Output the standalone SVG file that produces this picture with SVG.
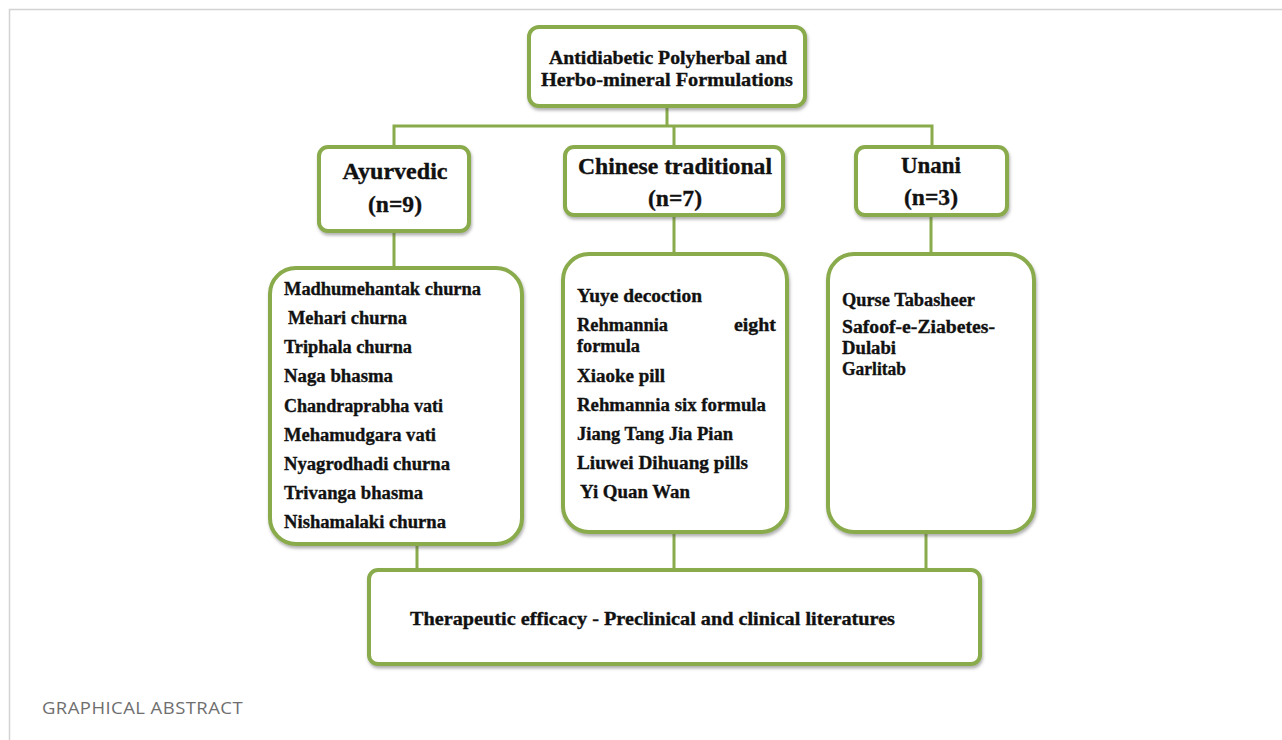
<svg xmlns="http://www.w3.org/2000/svg" width="1282" height="740" viewBox="0 0 1282 740">
<defs>
<filter id="sh" x="-10%" y="-10%" width="120%" height="125%">
<feDropShadow dx="1" dy="2.5" stdDeviation="1.5" flood-color="#555" flood-opacity="0.45"/>
</filter>
<style>
.box{fill:#fff;stroke:#8aab4c;stroke-width:4;filter:url(#sh)}
.con{fill:none;stroke:#8aab4c;stroke-width:3}
.t{font-family:"Liberation Serif","Times New Roman",serif;font-weight:bold;fill:#111;stroke:#111;stroke-width:0.35}
.h{font-size:23px;text-anchor:middle}
.l{font-size:18.5px}
</style>
</defs>
<rect x="0" y="0" width="1282" height="740" fill="#fff"/>
<path d="M9.5,740 V9.5 H1282" fill="none" stroke="#d2d2d2" stroke-width="1.5"/>

<g id="connectors">
<path class="con" d="M667,107 V126 M394,147 V126 H932 V146 M674,126 V146"/>
<path class="con" d="M394,232 V268 M674,216 V254 M931,216 V254"/>
<path class="con" d="M417,545 V570 M674,532 V570 M926,532 V570"/>
</g>

<g id="root">
<rect class="box" x="529" y="27" width="276" height="79" rx="10"/>
<text class="t" x="668" y="64" font-size="19" text-anchor="middle" textLength="238" lengthAdjust="spacingAndGlyphs">Antidiabetic Polyherbal and</text>
<text class="t" x="667" y="86" font-size="19" text-anchor="middle" textLength="252" lengthAdjust="spacingAndGlyphs">Herbo-mineral Formulations</text>
</g>

<g id="ayurvedic">
<rect class="box" x="319" y="147" width="150" height="84" rx="9"/>
<text class="t h" x="395" y="179" textLength="105" lengthAdjust="spacingAndGlyphs">Ayurvedic</text>
<text class="t h" x="395" y="212" textLength="54" lengthAdjust="spacingAndGlyphs">(n=9)</text>
</g>

<g id="chinese">
<rect class="box" x="565" y="147" width="218" height="68" rx="9"/>
<text class="t h" x="675" y="174" textLength="194" lengthAdjust="spacingAndGlyphs">Chinese traditional</text>
<text class="t h" x="675" y="206" textLength="54" lengthAdjust="spacingAndGlyphs">(n=7)</text>
</g>

<g id="unani">
<rect class="box" x="856" y="147" width="151" height="68" rx="9"/>
<text class="t h" x="931" y="173" textLength="60" lengthAdjust="spacingAndGlyphs">Unani</text>
<text class="t h" x="931" y="205" textLength="54" lengthAdjust="spacingAndGlyphs">(n=3)</text>
</g>

<g id="ayurvedic-list">
<rect class="box" x="270" y="268" width="252" height="276" rx="26"/>
<text class="t l" x="284" y="295" textLength="197" lengthAdjust="spacingAndGlyphs">Madhumehantak churna</text>
<text class="t l" x="288" y="324" textLength="119" lengthAdjust="spacingAndGlyphs">Mehari churna</text>
<text class="t l" x="284" y="353" textLength="128" lengthAdjust="spacingAndGlyphs">Triphala churna</text>
<text class="t l" x="284" y="382" textLength="109" lengthAdjust="spacingAndGlyphs">Naga bhasma</text>
<text class="t l" x="284" y="412" textLength="159" lengthAdjust="spacingAndGlyphs">Chandraprabha vati</text>
<text class="t l" x="284" y="441" textLength="152" lengthAdjust="spacingAndGlyphs">Mehamudgara vati</text>
<text class="t l" x="284" y="470" textLength="166" lengthAdjust="spacingAndGlyphs">Nyagrodhadi churna</text>
<text class="t l" x="284" y="499" textLength="139" lengthAdjust="spacingAndGlyphs">Trivanga bhasma</text>
<text class="t l" x="284" y="528" textLength="162" lengthAdjust="spacingAndGlyphs">Nishamalaki churna</text>
</g>

<g id="chinese-list">
<rect class="box" x="563" y="254" width="224" height="278" rx="26"/>
<text class="t l" x="577" y="302" textLength="125" lengthAdjust="spacingAndGlyphs">Yuye decoction</text>
<text class="t l" x="577" y="331" textLength="91" lengthAdjust="spacingAndGlyphs">Rehmannia</text>
<text class="t l" x="734" y="331" textLength="42" lengthAdjust="spacingAndGlyphs">eight</text>
<text class="t l" x="577" y="352" textLength="63" lengthAdjust="spacingAndGlyphs">formula</text>
<text class="t l" x="577" y="382" textLength="88" lengthAdjust="spacingAndGlyphs">Xiaoke pill</text>
<text class="t l" x="577" y="411" textLength="189" lengthAdjust="spacingAndGlyphs">Rehmannia six formula</text>
<text class="t l" x="577" y="440" textLength="156" lengthAdjust="spacingAndGlyphs">Jiang Tang Jia Pian</text>
<text class="t l" x="577" y="469" textLength="171" lengthAdjust="spacingAndGlyphs">Liuwei Dihuang pills</text>
<text class="t l" x="580" y="498" textLength="110" lengthAdjust="spacingAndGlyphs">Yi Quan Wan</text>
</g>

<g id="unani-list">
<rect class="box" x="828" y="254" width="206" height="278" rx="26"/>
<text class="t l" x="842" y="306" textLength="133" lengthAdjust="spacingAndGlyphs">Qurse Tabasheer</text>
<text class="t l" x="842" y="333" textLength="153" lengthAdjust="spacingAndGlyphs">Safoof-e-Ziabetes-</text>
<text class="t l" x="842" y="354" textLength="54" lengthAdjust="spacingAndGlyphs">Dulabi</text>
<text class="t l" x="842" y="375" textLength="64" lengthAdjust="spacingAndGlyphs">Garlitab</text>
</g>

<g id="efficacy">
<rect class="box" x="369" y="570" width="611" height="94" rx="9"/>
<text class="t" x="410" y="625" font-size="19" textLength="485" lengthAdjust="spacingAndGlyphs">Therapeutic efficacy - Preclinical and clinical literatures</text>
</g>

<text x="42" y="714" font-family="'Open Sans','Noto Sans',sans-serif" font-size="16" fill="#6e6e6e" letter-spacing="0.4" textLength="201" lengthAdjust="spacingAndGlyphs">GRAPHICAL ABSTRACT</text>
</svg>
